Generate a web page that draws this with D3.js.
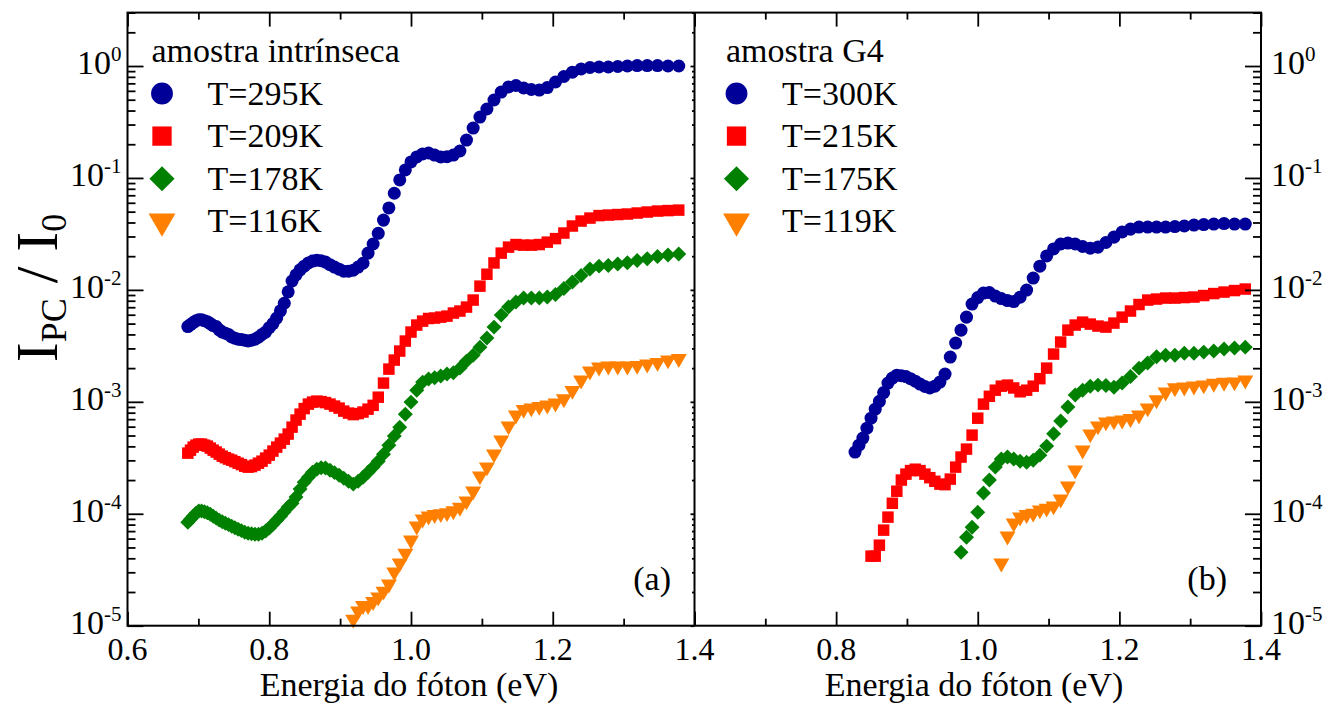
<!DOCTYPE html>
<html>
<head>
<meta charset="utf-8">
<script src="https://cdn.jsdelivr.net/npm/d3@7"></script>
<style>
  html, body { margin: 0; padding: 0; background: #fff; }
  svg text { font-family: "Liberation Serif", "Times New Roman", "DejaVu Serif", serif; fill: #000; }
</style>
</head>
<body>
<svg id="chart" width="1337" height="706"></svg>
<script>
// Photon energy grid (eV): 900 nm ... 1810 nm in 10 nm steps
const energiaEV = [
  1.3778, 1.3626, 1.3478, 1.3333, 1.3191, 1.3053, 1.2917, 1.2784, 1.2653, 1.2525,
  1.2400, 1.2277, 1.2157, 1.2039, 1.1923, 1.1810, 1.1698, 1.1589, 1.1481, 1.1376,
  1.1273, 1.1171, 1.1071, 1.0973, 1.0877, 1.0783, 1.0690, 1.0598, 1.0508, 1.0420,
  1.0333, 1.0248, 1.0164, 1.0081, 1.0000, 0.9920, 0.9841, 0.9764, 0.9688, 0.9612,
  0.9538, 0.9466, 0.9394, 0.9323, 0.9254, 0.9185, 0.9118, 0.9051, 0.8986, 0.8921,
  0.8857, 0.8794, 0.8732, 0.8671, 0.8611, 0.8552, 0.8493, 0.8435, 0.8378, 0.8322,
  0.8267, 0.8212, 0.8158, 0.8105, 0.8052, 0.8000, 0.7949, 0.7898, 0.7848, 0.7799,
  0.7750, 0.7702, 0.7654, 0.7607, 0.7561, 0.7515, 0.7470, 0.7425, 0.7381, 0.7337,
  0.7294, 0.7251, 0.7209, 0.7168, 0.7126, 0.7086, 0.7045, 0.7006, 0.6966, 0.6927,
  0.6889, 0.6851
];

// Normalised photocurrent I_PC/I_0, same order as energiaEV (high energy first)
// (a) amostra intrínseca
const ipcA295 = [
  1.00, 1.00, 1.01, 1.01, 1.01, 1.00, 0.99, 0.98, 0.98, 0.97,
  0.94, 0.88, 0.806, 0.72, 0.642, 0.61, 0.617, 0.636, 0.67, 0.65,
  0.585, 0.497, 0.413, 0.35, 0.279, 0.218, 0.174, 0.160, 0.155, 0.154,
  0.160, 0.167, 0.164, 0.154, 0.139, 0.118, 0.096, 0.073, 0.054, 0.042,
  0.032, 0.0257, 0.0213, 0.0173, 0.0160, 0.0150, 0.0147, 0.0147, 0.0153, 0.0160,
  0.0168, 0.0177, 0.0182, 0.0184, 0.0181, 0.0174, 0.0163, 0.0151, 0.0136, 0.0120,
  0.0096, 0.0076, 0.0065, 0.0056, 0.0050, 0.0046, 0.0042, 0.0040, 0.00378, 0.00363,
  0.00355, 0.0035, 0.00355, 0.0036, 0.00363, 0.0037, 0.0038, 0.0040, 0.0041, 0.0042,
  0.0044, 0.0047, 0.0048, 0.0050, 0.0052, 0.0053, 0.0054, 0.0054, 0.0053, 0.0051,
  0.0049, 0.0047
];
const ipcA209 = [
  0.0516, 0.0511, 0.0506, 0.0496, 0.0486, 0.0476, 0.0471, 0.0466, 0.0461, 0.0438,
  0.0412, 0.0372, 0.0322, 0.0287, 0.0267, 0.0254, 0.0251, 0.0251, 0.0254, 0.0241,
  0.0213, 0.0174, 0.0138, 0.0108, 0.00811, 0.00702, 0.00647, 0.00621, 0.00583, 0.00571,
  0.0056, 0.00555, 0.00526, 0.00485, 0.0042, 0.00349, 0.00284, 0.00236, 0.00196, 0.00147,
  0.0011, 0.00093, 0.00086, 0.00081, 0.000785, 0.000769, 0.000793, 0.000826, 0.000879, 0.000916,
  0.000954, 0.000984, 0.001004, 0.001014, 0.000994, 0.000954, 0.00087, 0.000776, 0.000687, 0.000594,
  0.000515, 0.000464, 0.000428, 0.000394, 0.000363, 0.000334, 0.000314, 0.000295, 0.000283, 0.000272,
  0.000264, 0.000261, 0.000266, 0.000275, 0.000283, 0.000292, 0.000301, 0.000308, 0.000317, 0.000327,
  0.000341, 0.000356, 0.00037, 0.000386, 0.000402, 0.00041, 0.000419, 0.000419, 0.00041, 0.000394,
  0.00037, 0.000348
];
const ipcA178 = [
  0.0209, 0.0205, 0.0199, 0.0190, 0.0183, 0.0175, 0.0170, 0.0165, 0.0163, 0.01535,
  0.01342, 0.01174, 0.01027, 0.00908, 0.00863, 0.00845, 0.00845, 0.00845, 0.00778, 0.00702,
  0.00595, 0.00465, 0.00371, 0.00308, 0.00261, 0.00231, 0.0020, 0.00182, 0.00177, 0.0017,
  0.00164, 0.0016, 0.0015, 0.00127, 0.000994, 0.000776, 0.000594, 0.000494, 0.00041, 0.000341,
  0.000295, 0.000261, 0.000235, 0.000212, 0.000195, 0.000184, 0.000195, 0.000208, 0.000221, 0.000233,
  0.000245, 0.000256, 0.000258, 0.00025, 0.000235, 0.000212, 0.000191, 0.000166, 0.000141, 0.000124,
  0.000115, 0.000104, 0.0000952, 0.0000877, 0.0000807, 0.0000744, 0.00007, 0.0000671, 0.0000657, 0.0000657,
  0.0000664, 0.0000671, 0.0000685, 0.0000707, 0.0000728, 0.0000751, 0.0000775, 0.00008, 0.0000824, 0.000085,
  0.0000877, 0.0000914, 0.0000952, 0.0000991, 0.000102, 0.000104, 0.000106, 0.000106, 0.000101, 0.0000952,
  0.0000895, 0.0000841
];
const ipcA116 = [
  0.00243, 0.00236, 0.00224, 0.00217, 0.00211, 0.00208, 0.00208, 0.00208, 0.00204, 0.00188,
  0.00156, 0.00126, 0.00106, 0.000973, 0.000934, 0.000906, 0.000879, 0.000852, 0.00076, 0.000607,
  0.000455, 0.000341, 0.000261, 0.000217, 0.000159, 0.00013, 0.000114, 0.000106, 0.000102, 0.0001,
  0.0000982, 0.0000952, 0.0000895, 0.0000775, 0.000058, 0.0000443, 0.0000362, 0.0000301, 0.0000235, 0.0000203,
  0.000018, 0.0000164, 0.0000151, 0.0000151, 0.0000135, 0.0000114
];

// (b) amostra G4
const ipcB300 = [
  0.0387, 0.0387, 0.0391, 0.0387, 0.0383, 0.0379, 0.0372, 0.0368, 0.0364, 0.0364,
  0.0364, 0.0364, 0.0349, 0.0329, 0.0296, 0.0265, 0.0241, 0.0236, 0.0244, 0.0257,
  0.0262, 0.0257, 0.0232, 0.0201, 0.0163, 0.01275, 0.00996, 0.0086, 0.00786, 0.00802,
  0.00836, 0.00881, 0.00946, 0.00936, 0.00854, 0.00747, 0.00571, 0.00437, 0.00335, 0.00251,
  0.00177, 0.0015, 0.00138, 0.00133, 0.00137, 0.00144, 0.00153, 0.00161, 0.00168, 0.00171,
  0.00173, 0.00163, 0.00147, 0.00121, 0.00101, 0.00086, 0.000714, 0.000582, 0.000474, 0.00041,
  0.000356
];
const ipcB215 = [
  0.01017, 0.00986, 0.00956, 0.00927, 0.0089, 0.00863, 0.00854, 0.00845, 0.00845, 0.00828,
  0.00811, 0.0074, 0.00647, 0.00571, 0.00505, 0.00465, 0.00475, 0.00495, 0.00515, 0.00485,
  0.00437, 0.00342, 0.00267, 0.0020, 0.00161, 0.00138, 0.00127, 0.00123, 0.00133, 0.00141,
  0.00138, 0.00127, 0.00112, 0.000954, 0.000714, 0.000504, 0.000378, 0.000321, 0.000261, 0.000204,
  0.000182, 0.000184, 0.000195, 0.00021, 0.000226, 0.000243, 0.00025, 0.000243, 0.000226, 0.0002,
  0.000159, 0.000124, 0.0000933, 0.0000714, 0.0000524, 0.0000418, 0.0000418
];
const ipcB175 = [
  0.00308, 0.00302, 0.00296, 0.00284, 0.00278, 0.00272, 0.00272, 0.00261, 0.00261, 0.00253,
  0.00222, 0.0020, 0.00168, 0.00147, 0.00135, 0.0014, 0.00141, 0.00138, 0.00127, 0.00115,
  0.000897, 0.000673, 0.000518, 0.000402, 0.000334, 0.000301, 0.000289, 0.000295, 0.000308, 0.000321,
  0.000308, 0.000261, 0.0002, 0.000153, 0.000103, 0.0000759, 0.0000618, 0.0000454
];
const ipcB119 = [
  0.00156, 0.0015, 0.00149, 0.00146, 0.00141, 0.00138, 0.00135, 0.00133, 0.00122, 0.00104,
  0.000879, 0.00076, 0.000707, 0.000686, 0.000673, 0.000659, 0.000607, 0.000515, 0.00037, 0.000245,
  0.000177, 0.000135, 0.000117, 0.000112, 0.000108, 0.000101, 0.0000982, 0.0000933, 0.0000824, 0.0000631,
  0.0000362
];

const legendaA = ["T=295K", "T=209K", "T=178K", "T=116K"];
const legendaB = ["T=300K", "T=215K", "T=175K", "T=119K"];
const tituloA = "amostra intrínseca";
const tituloB = "amostra G4";
const cores = ["#000099", "#ff0000", "#008000", "#ff8000"];
const simbolos = ["circle", "square", "diamond", "triangle"];

const xMajor = [0.6, 0.8, 1.0, 1.2, 1.4];
const xMinor = [0.7, 0.9, 1.1, 1.3];
const yExpoentes = [-5, -4, -3, -2, -1, 0];

// ---- layout ----
const svg = d3.select("#chart");
const topY = 12.6, bottomY = 625.7;
const xA = d3.scaleLinear().domain([0.6, 1.4]).range([127.5, 694.5]);
const xB = d3.scaleLinear().domain([0.6, 1.4]).range([694.5, 1261]);
const y = d3.scaleLog().domain([1e-5, 3]).range([bottomY, topY]);

const yMajor = yExpoentes.map(e => Math.pow(10, e));
const yMinor = [];
yExpoentes.forEach(e => { for (let m = 2; m <= 9; m++) { const v = m * Math.pow(10, e); if (v <= 3.0001) yMinor.push(v); } });

// symbol generator: data markers and the larger legend markers
function markerPath(kind, big) {
  const k = big ? 1.68 : 1;
  if (kind === "circle") return d3.symbol(d3.symbolCircle, 133 * k * k)();
  if (kind === "square") return d3.symbol(d3.symbolSquare, 132 * k * k)();
  if (kind === "diamond") return d3.symbol(d3.symbolSquare, 112 * k * k)();
  return d3.symbol(d3.symbolTriangle, 111 * k * k)();
}
function markerTransform(kind, px, py) {
  if (kind === "diamond") return `translate(${px},${py}) rotate(45)`;
  if (kind === "triangle") return `translate(${px},${py}) rotate(180)`;
  return `translate(${px},${py})`;
}

function styleAxis(g) {
  g.select(".domain").remove();
  g.selectAll(".tick line").attr("stroke", "#000").attr("stroke-width", 1.8);
  g.selectAll(".tick text").remove();
}

function drawPanel(x, series, legend, title, opts) {
  const g = svg.append("g");
  const [x0, x1] = x.range();

  // data
  series.forEach((vals, si) => {
    const kind = simbolos[si];
    const pts = vals.map((v, i) => [energiaEV[i], v]).reverse();
    g.append("g").selectAll("path").data(pts).join("path")
      .attr("d", markerPath(kind, false))
      .attr("transform", d => markerTransform(kind, x(d[0]), y(d[1])))
      .attr("fill", cores[si]);
  });

  // x ticks bottom / top, inward
  g.append("g").attr("transform", `translate(0,${bottomY})`)
    .call(d3.axisBottom(x).tickValues(xMajor).tickSizeInner(-14).tickSizeOuter(0)).call(styleAxis);
  g.append("g").attr("transform", `translate(0,${bottomY})`)
    .call(d3.axisBottom(x).tickValues(xMinor).tickSizeInner(-7).tickSizeOuter(0)).call(styleAxis);
  g.append("g").attr("transform", `translate(0,${topY})`)
    .call(d3.axisTop(x).tickValues(xMajor).tickSizeInner(-14).tickSizeOuter(0)).call(styleAxis);
  g.append("g").attr("transform", `translate(0,${topY})`)
    .call(d3.axisTop(x).tickValues(xMinor).tickSizeInner(-7).tickSizeOuter(0)).call(styleAxis);

  // y ticks on the outer side of the panel
  const yAx = opts.side === "left" ? d3.axisLeft : d3.axisRight;
  const xe = opts.side === "left" ? x0 : x1;
  g.append("g").attr("transform", `translate(${xe},0)`)
    .call(yAx(y).tickValues(yMajor).tickSizeInner(-16).tickSizeOuter(0)).call(styleAxis);
  g.append("g").attr("transform", `translate(${xe},0)`)
    .call(yAx(y).tickValues(yMinor).tickSizeInner(-8).tickSizeOuter(0)).call(styleAxis);

  // x tick labels
  g.append("g").selectAll("text").data(xMajor.filter(v => opts.xLabels.includes(v))).join("text")
    .attr("x", d => x(d)).attr("y", 660).attr("text-anchor", "middle")
    .attr("font-size", 32).text(d => d.toFixed(1));

  // y tick labels 10^n
  const yl = g.append("g").selectAll("text").data(yExpoentes).join("text")
    .attr("x", opts.side === "left" ? x0 - 6 : x1 + 10)
    .attr("y", d => y(Math.pow(10, d)) + 8)
    .attr("text-anchor", opts.side === "left" ? "end" : "start")
    .attr("font-size", 34);
  yl.append("tspan").text("10");
  yl.append("tspan").attr("font-size", 21).attr("dy", -13).text(d => String(d));

  // x title
  g.append("text").attr("x", opts.titleX).attr("y", 696).attr("text-anchor", "middle")
    .attr("font-size", 34).text("Energia do fóton (eV)");

  // panel tag
  g.append("text").attr("x", opts.tagX).attr("y", 590).attr("text-anchor", "end")
    .attr("font-size", 34).text(opts.tag);

  // legend
  const lx = opts.legendX;
  g.append("text").attr("x", lx).attr("y", 62).attr("font-size", 34).text(title);
  legend.forEach((lab, i) => {
    const cy = 93.5 + 42.6 * i;
    g.append("path").attr("d", markerPath(simbolos[i], true))
      .attr("transform", markerTransform(simbolos[i], lx + 10.5, cy)).attr("fill", cores[i]);
    g.append("text").attr("x", lx + 56).attr("y", cy + 11).attr("font-size", 34).text(lab);
  });
}

drawPanel(xA, [ipcA295, ipcA209, ipcA178, ipcA116], legendaA, tituloA,
  { side: "left", xLabels: [0.6, 0.8, 1.0, 1.2, 1.4], titleX: 409, tag: "(a)", tagX: 671, legendX: 151.5 });
drawPanel(xB, [ipcB300, ipcB215, ipcB175, ipcB119], legendaB, tituloB,
  { side: "right", xLabels: [0.8, 1.0, 1.2, 1.4], titleX: 974, tag: "(b)", tagX: 1227, legendX: 726 });

// small ticks on the shared middle edge
svg.append("g").attr("transform", `translate(${xA.range()[1]},0)`)
  .call(d3.axisRight(y).tickValues(yMajor).tickSizeInner(-4).tickSizeOuter(0)).call(styleAxis);
svg.append("g").attr("transform", `translate(${xA.range()[1]},0)`)
  .call(d3.axisRight(y).tickValues(yMinor).tickSizeInner(-2.5).tickSizeOuter(0)).call(styleAxis);

// frames
svg.append("rect").attr("x", xA.range()[0]).attr("y", topY)
  .attr("width", xB.range()[1] - xA.range()[0]).attr("height", bottomY - topY)
  .attr("fill", "none").attr("stroke", "#000").attr("stroke-width", 2);
svg.append("line").attr("x1", xA.range()[1]).attr("x2", xA.range()[1])
  .attr("y1", topY).attr("y2", bottomY).attr("stroke", "#000").attr("stroke-width", 2);

// y axis title
const yt = svg.append("text").attr("transform", "translate(57,288) rotate(-90)")
  .attr("text-anchor", "middle").attr("font-size", 60);
yt.append("tspan").text("I");
yt.append("tspan").attr("font-size", 36).attr("dy", 9).text("PC");
yt.append("tspan").attr("dy", -9).text(" / I");
yt.append("tspan").attr("font-size", 36).attr("dy", 9).text("0");
</script>
</body>
</html>
